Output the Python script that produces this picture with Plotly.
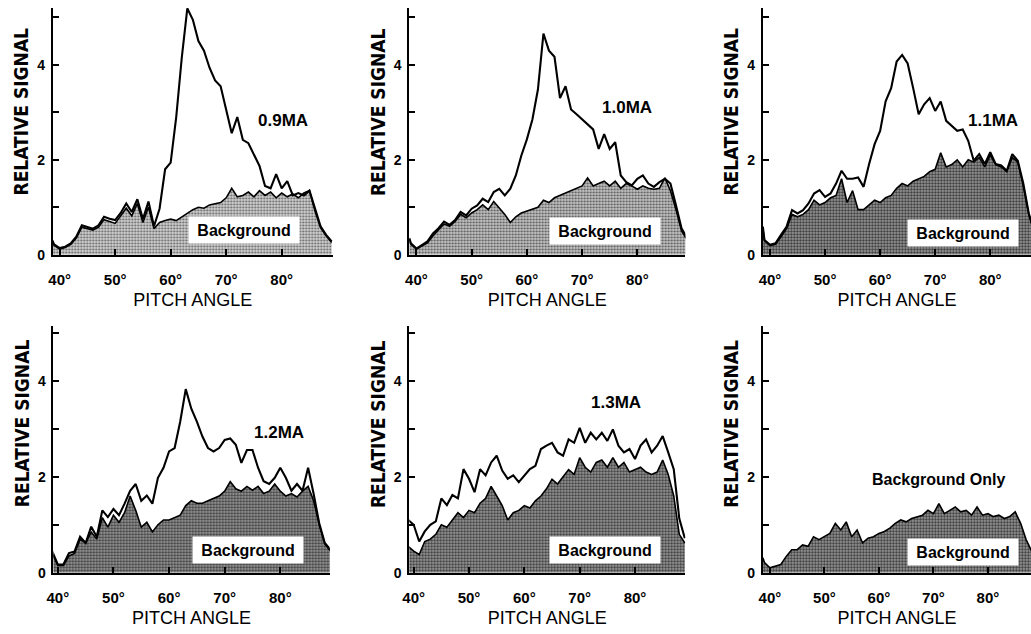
import plotly.graph_objects as go

# Pitch angle grid (degrees)
pitch = [38.7, 39, 40, 41, 42, 43, 44, 45, 46, 47, 48, 49,
         50, 51, 52, 53, 54, 55, 56, 57, 58, 59,
         60, 61, 62, 63, 64, 65, 66, 67, 68, 69,
         70, 71, 72, 73, 74, 75, 76, 77, 78, 79,
         80, 81, 82, 83, 84, 85, 86, 87, 88, 89]

sig_09 = [0.30, 0.22, 0.14, 0.17, 0.24, 0.38, 0.62, 0.59, 0.55, 0.62, 0.80, 0.76,
          0.73, 0.88, 1.08, 0.90, 1.17, 0.75, 1.12, 0.60, 0.97, 1.80,
          1.94, 2.90, 4.15, 5.19, 4.95, 4.50, 4.30, 3.94, 3.67, 3.55,
          3.05, 2.56, 2.90, 2.42, 2.35, 2.10, 1.87, 1.45, 1.40, 1.70,
          1.40, 1.55, 1.25, 1.30, 1.25, 1.35, 0.95, 0.60, 0.42, 0.28]
bkg_09 = [0.28, 0.20, 0.12, 0.15, 0.22, 0.35, 0.58, 0.55, 0.52, 0.58, 0.74, 0.70,
          0.66, 0.82, 0.98, 0.82, 1.08, 0.68, 1.00, 0.55, 0.68, 0.72,
          0.75, 0.72, 0.80, 0.88, 0.95, 1.00, 0.98, 1.05, 1.08, 1.10,
          1.20, 1.40, 1.22, 1.25, 1.32, 1.22, 1.35, 1.25, 1.32, 1.20,
          1.30, 1.22, 1.28, 1.20, 1.30, 1.35, 0.92, 0.57, 0.40, 0.26]

sig_10 = [0.35, 0.24, 0.13, 0.21, 0.28, 0.45, 0.56, 0.70, 0.63, 0.73, 0.90, 0.83,
          0.97, 1.04, 1.18, 1.11, 1.32, 1.39, 1.25, 1.39, 1.67, 2.09,
          2.43, 2.85, 3.48, 4.66, 4.30, 4.17, 3.30, 3.55, 3.06, 2.96,
          2.85, 2.75, 2.64, 2.23, 2.54, 2.23, 2.37, 1.67, 1.53, 1.46,
          1.60, 1.67, 1.50, 1.43, 1.53, 1.60, 1.50, 1.04, 0.56, 0.35]
bkg_10 = [0.33, 0.22, 0.12, 0.18, 0.25, 0.40, 0.52, 0.65, 0.60, 0.70, 0.85, 0.78,
          0.88, 0.95, 1.05, 0.95, 1.12, 0.98, 0.85, 0.68, 0.80, 0.88,
          0.92, 0.95, 1.00, 1.15, 1.10, 1.20, 1.25, 1.30, 1.35, 1.40,
          1.45, 1.62, 1.45, 1.50, 1.55, 1.45, 1.55, 1.40, 1.50, 1.45,
          1.38, 1.45, 1.40, 1.38, 1.40, 1.62, 1.35, 0.95, 0.50, 0.32]

sig_11 = [0.59, 0.31, 0.21, 0.24, 0.42, 0.59, 0.94, 0.87, 0.94, 1.08, 1.29, 1.36,
          1.22, 1.29, 1.50, 1.77, 1.60, 1.60, 1.63, 1.43, 1.91, 2.33,
          2.61, 3.23, 3.51, 4.07, 4.21, 4.03, 3.51, 2.96, 3.17, 3.30,
          3.03, 3.23, 2.82, 2.71, 2.61, 2.64, 2.40, 1.98, 2.12, 1.91,
          2.16, 1.91, 1.88, 1.77, 2.12, 1.98, 1.50, 0.87, 0.50, 0.30]
bkg_11 = [0.55, 0.30, 0.19, 0.22, 0.38, 0.55, 0.85, 0.80, 0.85, 0.95, 1.15, 1.05,
          1.10, 1.20, 1.25, 1.60, 1.10, 1.35, 0.95, 0.95, 1.05, 1.15,
          1.10, 1.20, 1.25, 1.40, 1.50, 1.45, 1.55, 1.60, 1.65, 1.75,
          1.80, 2.15, 1.85, 1.90, 2.00, 1.85, 2.00, 1.95, 2.05, 1.85,
          2.10, 1.90, 1.85, 1.75, 2.05, 1.95, 1.45, 0.85, 0.45, 0.30]

sig_12 = [0.46, 0.44, 0.17, 0.17, 0.41, 0.44, 0.75, 0.62, 0.96, 0.75, 1.30, 1.16,
          1.33, 1.20, 1.44, 1.71, 1.85, 1.50, 1.61, 1.44, 1.98, 2.19,
          2.53, 2.60, 3.15, 3.83, 3.42, 3.15, 2.84, 2.60, 2.53, 2.60,
          2.77, 2.80, 2.67, 2.29, 2.56, 2.56, 2.19, 1.91, 1.85, 1.98,
          2.19, 1.98, 1.71, 1.85, 1.71, 2.19, 1.64, 1.03, 0.62, 0.48]
bkg_12 = [0.42, 0.40, 0.15, 0.15, 0.35, 0.40, 0.70, 0.62, 0.85, 0.70, 1.15, 0.95,
          1.20, 1.05, 1.25, 1.60, 1.30, 0.95, 1.05, 0.85, 1.00, 1.10,
          1.10, 1.15, 1.20, 1.40, 1.50, 1.45, 1.45, 1.50, 1.55, 1.60,
          1.70, 1.90, 1.75, 1.70, 1.80, 1.72, 1.80, 1.65, 1.70, 1.85,
          1.70, 1.60, 1.65, 1.58, 1.70, 1.80, 1.50, 1.00, 0.60, 0.45]

sig_13 = [1.13, 1.10, 1.00, 0.65, 0.86, 1.00, 1.07, 1.55, 1.41, 1.62, 1.55, 2.16,
          1.96, 1.68, 2.16, 2.03, 2.30, 2.44, 2.13, 1.96, 2.03, 1.89,
          2.03, 2.16, 2.23, 2.58, 2.65, 2.71, 2.51, 2.44, 2.78, 2.71,
          3.02, 2.71, 2.92, 2.78, 2.92, 2.75, 2.99, 2.65, 2.51, 2.58,
          2.37, 2.65, 2.78, 2.51, 2.65, 2.85, 2.51, 2.16, 1.13, 0.72]
bkg_13 = [0.58, 0.55, 0.45, 0.38, 0.65, 0.70, 0.80, 1.00, 0.95, 1.10, 1.25, 1.15,
          1.30, 1.25, 1.45, 1.55, 1.80, 1.60, 1.40, 1.10, 1.25, 1.30,
          1.40, 1.35, 1.50, 1.60, 1.75, 1.95, 1.85, 2.00, 2.15, 2.05,
          2.40, 2.20, 2.10, 2.30, 2.35, 2.20, 2.40, 2.20, 2.30, 2.10,
          2.15, 2.20, 2.10, 2.05, 2.10, 2.35, 2.05, 1.60, 0.80, 0.62]

bkg_only = [0.31, 0.21, 0.10, 0.14, 0.17, 0.34, 0.48, 0.48, 0.58, 0.55, 0.75, 0.69,
            0.75, 0.82, 1.03, 0.89, 1.06, 0.75, 0.89, 0.62, 0.72, 0.75,
            0.82, 0.86, 0.93, 1.03, 1.10, 1.06, 1.13, 1.17, 1.20, 1.30,
            1.23, 1.44, 1.23, 1.30, 1.37, 1.27, 1.30, 1.20, 1.37, 1.20,
            1.23, 1.17, 1.20, 1.13, 1.17, 1.27, 1.03, 0.69, 0.45, 0.30]

panel_labels = ["0.9MA", "1.0MA", "1.1MA", "1.2MA", "1.3MA", "Background Only"]
signals = [sig_09, sig_10, sig_11, sig_12, sig_13, None]
backgrounds = [bkg_09, bkg_10, bkg_11, bkg_12, bkg_13, bkg_only]

x_ticks = [40, 50, 60, 70, 80]
x_tick_text = ["40°", "50°", "60°", "70°", "80°"]
y_ticks = [0, 1, 2, 3, 4, 5]
y_tick_text = ["0", "", "2", "", "4", ""]

# ---- layout geometry (pixels -> paper) ----
W, H = 1031, 634
x_dom_px = [(46, 328), (405, 683), (761, 1031), (46.7, 325), (405, 683), (761, 1031)]
x_ranges = [(38.75, 89.2), (38.7, 88.7), (38.7, 87.4), (39.2, 88.9), (39.2, 89.1), (38.7, 87.9)]
row_y_px = [(8, 258), (330, 580)]
row_y_range = [(0, 5.2), (0, 5.15)]
ytitle_px_y = [113, 429]
label_pos = [(80.3, 2.83), (78.1, 3.1), (80.5, 2.82), (79.8, 2.93), (76.6, 3.55), (70.9, 1.95)]
bkg_box_pos = [(73.2, 0.53), (74.1, 0.49), (75.1, 0.45), (74.2, 0.48), (74.6, 0.48), (75.5, 0.44)]
fill_styles = [
    dict(bg="#d2d2d2", fg="#5a5a5a", sol=0.35),
    dict(bg="#c6c6c6", fg="#505050", sol=0.4),
    dict(bg="#a4a4a4", fg="#3a3a3a", sol=0.5),
    dict(bg="#a8a8a8", fg="#3a3a3a", sol=0.5),
    dict(bg="#a8a8a8", fg="#3a3a3a", sol=0.5),
    dict(bg="#a4a4a4", fg="#3a3a3a", sol=0.5),
]

FONT = "Liberation Sans, Arial, Helvetica, sans-serif"
NARROW = "Liberation Sans Narrow, Arial Narrow, DejaVu Sans Condensed, Liberation Sans, sans-serif"

fig = go.Figure()
layout = dict(width=W, height=H, margin=dict(l=0, r=0, t=0, b=0),
              paper_bgcolor="white", plot_bgcolor="white", showlegend=False)
annotations = []

for i in range(6):
    n = i + 1
    xa = "x" if n == 1 else f"x{n}"
    ya = "y" if n == 1 else f"y{n}"
    row = 0 if i < 3 else 1
    fs = fill_styles[i]
    fig.add_trace(go.Scatter(
        x=pitch, y=backgrounds[i], xaxis=xa, yaxis=ya, mode="lines",
        line=dict(color="black", width=1.6), fill="tozeroy",
        fillcolor=fs["bg"],
        fillpattern=dict(shape=".", fgcolor=fs["fg"], bgcolor=fs["bg"],
                         size=3, solidity=fs["sol"], fillmode="replace"),
        hoverinfo="skip"))
    if signals[i] is not None:
        fig.add_trace(go.Scatter(
            x=pitch, y=signals[i], xaxis=xa, yaxis=ya, mode="lines",
            line=dict(color="black", width=2.1), hoverinfo="skip"))

    x0, x1 = x_dom_px[i]
    y0, y1 = row_y_px[row]
    xkey = "xaxis" if n == 1 else f"xaxis{n}"
    ykey = "yaxis" if n == 1 else f"yaxis{n}"
    layout[xkey] = dict(
        domain=[x0 / W, x1 / W], anchor=ya, range=list(x_ranges[i]),
        showgrid=False, zeroline=False, showline=True, linecolor="black", linewidth=1.8,
        ticks="inside", ticklen=6, tickwidth=1.5, tickcolor="black",
        tickvals=x_ticks, ticktext=x_tick_text, ticklabelstandoff=10,
        tickfont=dict(family=FONT, size=15, color="black", weight="bold"),
        title=dict(text="PITCH ANGLE", standoff=7,
                   font=dict(family=FONT, size=18, color="black")),
        fixedrange=True)
    layout[ykey] = dict(
        domain=[1 - y1 / H, 1 - y0 / H], anchor=xa, range=list(row_y_range[row]),
        showgrid=False, zeroline=False, showline=True, linecolor="black", linewidth=1.8,
        ticks="inside", ticklen=6, tickwidth=1.5, tickcolor="black",
        tickvals=y_ticks, ticktext=y_tick_text, ticklabelstandoff=3,
        tickfont=dict(family=FONT, size=14, color="black", weight="bold"),
        fixedrange=True)

    # y-axis title (rotated text, offset upward as in the original)
    annotations.append(dict(x=(x0 - 32) / W, y=1 - ytitle_px_y[row] / H,
                            xref="paper", yref="paper", text="RELATIVE SIGNAL",
                            textangle=-90, showarrow=False,
                            xanchor="center", yanchor="middle",
                            font=dict(family=NARROW, size=19, color="black", weight="bold")))

    lx, ly = label_pos[i]
    annotations.append(dict(x=lx, y=ly, xref=xa, yref=ya, text=panel_labels[i],
                            showarrow=False,
                            font=dict(family=FONT, size=17 if n < 6 else 16,
                                      color="black", weight="bold")))
    bx, by = bkg_box_pos[i]
    annotations.append(dict(x=bx, y=by, xref=xa, yref=ya, text="Background",
                            showarrow=False, bgcolor="white", width=108, height=24,
                            font=dict(family=FONT, size=16, color="black", weight="bold")))

layout["annotations"] = annotations
fig.update_layout(**layout)
fig.write_html("out.html", config={"displayModeBar": False},
               post_script="document.body.style.margin='0px';")
